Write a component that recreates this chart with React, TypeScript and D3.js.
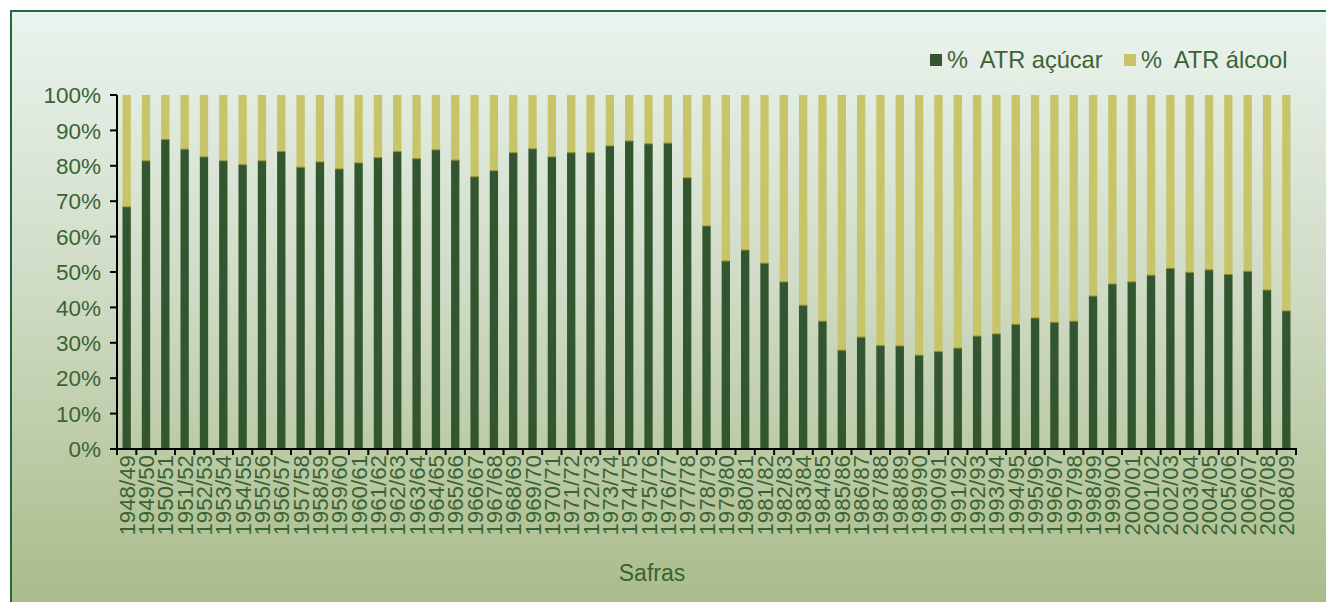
import React from "react";
import * as d3 from "d3";

const categories: string[] = [
  "1948/49","1949/50","1950/51","1951/52","1952/53","1953/54","1954/55","1955/56","1956/57","1957/58",
  "1958/59","1959/60","1960/61","1961/62","1962/63","1963/64","1964/65","1965/66","1966/67","1967/68",
  "1968/69","1969/70","1970/71","1971/72","1972/73","1973/74","1974/75","1975/76","1976/77","1977/78",
  "1978/79","1979/80","1980/81","1981/82","1982/83","1983/84","1984/85","1985/86","1986/87","1987/88",
  "1988/89","1989/90","1990/91","1991/92","1992/93","1993/94","1994/95","1995/96","1996/97","1997/98",
  "1998/99","1999/00","2000/01","2001/02","2002/03","2003/04","2004/05","2005/06","2006/07","2007/08",
  "2008/09",
];

const acucar: number[] = [
  68.4, 81.4, 87.4, 84.7, 82.5, 81.4, 80.3, 81.4, 84.0, 79.6,
  81.1, 79.1, 80.8, 82.3, 84.0, 82.0, 84.5, 81.6, 76.9, 78.6,
  83.7, 84.8, 82.5, 83.7, 83.7, 85.6, 87.0, 86.2, 86.4, 76.6,
  63.0, 53.1, 56.2, 52.5, 47.2, 40.6, 36.1, 27.9, 31.6, 29.2,
  29.1, 26.5, 27.5, 28.5, 31.9, 32.5, 35.2, 37.0, 35.8, 36.1,
  43.2, 46.6, 47.2, 49.1, 51.0, 49.9, 50.6, 49.3, 50.2, 44.9,
  39.0,
];

const alcool: number[] = acucar.map((v) => 100 - v);

const yTicks: number[] = [0, 10, 20, 30, 40, 50, 60, 70, 80, 90, 100];
const seriesNames: string[] = ["%  ATR açúcar", "%  ATR álcool"];
const seriesColors: string[] = ["#33552f", "#c8c46a"];

const W = 1326;
const H = 602;
const FONT = "'Liberation Sans', Arial, sans-serif";
const TEXT = "#3a6334";

export default function App() {
  const x = d3
    .scaleBand<string>()
    .domain(categories)
    .range([117, 1296])
    .paddingInner(0.57)
    .paddingOuter(0.285);
  const y = d3.scaleLinear().domain([0, 100]).range([449, 95]);
  const step = x.step();

  return (
    <div style={{ position: "fixed", left: 0, top: 0 }}>
      <svg width={W} height={H} style={{ display: "block" }}>
        <defs>
          <linearGradient id="bg" x1="0" y1="0" x2="0" y2="1">
            <stop offset="0%" stopColor="#eaf4ef" />
            <stop offset="45%" stopColor="#cfdbc4" />
            <stop offset="100%" stopColor="#a6b984" />
          </linearGradient>
        </defs>
        <rect x={0} y={0} width={W} height={H} fill="#ffffff" />
        <rect x={11} y={11} width={W + 20} height={H + 20} fill="url(#bg)" stroke="#1e6a3c" strokeWidth={2} />

        {/* bars */}
        {categories.map((c, i) => {
          const bx = x(c) as number;
          const bw = x.bandwidth();
          const g = acucar[i];
          const a = alcool[i];
          return (
            <g key={c}>
              <rect x={bx} y={y(g)} width={bw} height={y(0) - y(g)} fill={seriesColors[0]} />
              <rect x={bx} y={y(g + a)} width={bw} height={y(g) - y(g + a)} fill={seriesColors[1]} />
              <line x1={bx} x2={bx + bw} y1={y(g)} y2={y(g)} stroke="#8a8a2e" strokeWidth={1} />
            </g>
          );
        })}

        {/* y axis */}
        <line x1={117} x2={117} y1={y(100)} y2={y(0) + 1} stroke="#000" strokeWidth={2} />
        {yTicks.map((t) => (
          <g key={t}>
            <line x1={110} x2={117} y1={y(t)} y2={y(t)} stroke="#000" strokeWidth={2} />
            <text
              x={101}
              y={y(t)}
              dy="0.36em"
              textAnchor="end"
              fontFamily={FONT}
              fontSize={22.5}
              fill={TEXT}
            >
              {t + "%"}
            </text>
          </g>
        ))}

        {/* x axis */}
        <line x1={110} x2={1297} y1={y(0)} y2={y(0)} stroke="#000" strokeWidth={2} />
        {d3.range(categories.length + 1).map((k) => {
          const tx = 117 + k * step;
          return <line key={k} x1={tx} x2={tx} y1={y(0)} y2={y(0) + 6} stroke="#000" strokeWidth={2} />;
        })}
        {categories.map((c) => {
          const cx = (x(c) as number) + x.bandwidth() / 2;
          return (
            <text
              key={c}
              transform={`translate(${cx},455) rotate(-90)`}
              dy="0.36em"
              textAnchor="end"
              fontFamily={FONT}
              fontSize={22.3}
              fill={TEXT}
            >
              {c}
            </text>
          );
        })}

        <text x={652} y={581} textAnchor="middle" fontFamily={FONT} fontSize={23} fill={TEXT}>
          Safras
        </text>

        {/* legend */}
        {seriesNames.map((n, i) => {
          const lx = i === 0 ? 930 : 1124;
          return (
            <g key={n}>
              <rect x={lx} y={54} width={12} height={12} fill={seriesColors[i]} />
              <text x={lx + 17} y={68} fontFamily={FONT} fontSize={23.6} fill={TEXT} style={{ whiteSpace: "pre" }}>
                {n}
              </text>
            </g>
          );
        })}
      </svg>
    </div>
  );
}
